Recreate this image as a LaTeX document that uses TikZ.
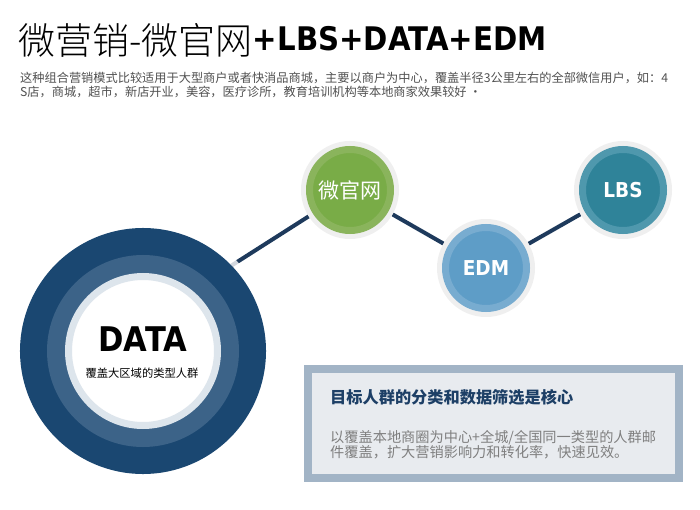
\documentclass[tikz,border=0pt]{standalone}
\usepackage{fontspec}
\usetikzlibrary{backgrounds}
\newfontfamily\cjk{Noto Sans CJK SC}
\newfontfamily\cjklight{Noto Sans CJK SC Light}
\newfontfamily\heavy[FakeStretch=0.9]{DejaVu Sans}
\definecolor{navy}{HTML}{1A4771}
\definecolor{midring}{HTML}{3C6388}
\definecolor{datagray}{HTML}{DDE5EC}
\definecolor{linkblue}{HTML}{1E3A5C}
\definecolor{halo}{HTML}{EFEFEF}
\definecolor{greenring}{HTML}{8AB45C}
\definecolor{greenin}{HTML}{79AC47}
\definecolor{edmring}{HTML}{78ACD0}
\definecolor{edmin}{HTML}{5E9DC7}
\definecolor{lbsring}{HTML}{4F98AD}
\definecolor{lbsin}{HTML}{2F8399}
\definecolor{frame}{HTML}{A2B4C6}
\definecolor{boxfill}{HTML}{E8EBEF}
\definecolor{boxtitle}{HTML}{1D3F66}
\definecolor{boxgray}{HTML}{7F7F7F}
\definecolor{introgray}{HTML}{505050}
\begin{document}
\begin{tikzpicture}[x=1pt,y=-1pt,
    bubble/.style={circle, minimum size=81, inner sep=0, outer sep=8.5, line width=7,
                   preaction={draw=halo, line width=17}, text=white},
    link/.style={draw=linkblue, line width=4}]
%    \draw[help lines] (0,0) grid[step=50] (700,510);
    \useasboundingbox (0,0) rectangle (700,510);

    \node[anchor=base west, inner sep=0] (titlecn) at (18,54.5) {\fontsize{37}{40}\selectfont\cjklight 微营销-微官网};
    \node[anchor=base west, inner sep=0] (titleen) at ([yshift=4]titlecn.base east) {\fontsize{32.5}{36}\selectfont\heavy\bfseries +LBS+DATA+EDM};
    \node[anchor=base west, inner sep=0, text=introgray] (intro1) at (20,82.5) {\fontsize{12.2}{14}\selectfont\cjk 这种组合营销模式比较适用于大型商户或者快消品商城，主要以商户为中心，覆盖半径3公里左右的全部微信用户，如：4};
    \node[anchor=base west, inner sep=0, text=introgray] (intro2) at (20,96.5) {\fontsize{12.2}{14}\selectfont\cjk S店，商城，超市，新店开业，美容，医疗诊所，教育培训机构等本地商家效果较好 ·};

    \node[circle, minimum size=149, inner sep=0, outer sep=48.5, line width=7, draw=datagray, fill=white,
          preaction={draw=white, draw opacity=.8, line width=111},
          preaction={draw=navy, line width=97},
          preaction={draw=midring, line width=43}] (data) at (143,351) {};
    \node[inner sep=0] (datatitle) at (143,339) {\fontsize{34}{36}\selectfont\heavy\bfseries DATA};
    \node[inner sep=0] (datasub)   at (142,373) {\fontsize{11.3}{13}\selectfont\cjk 覆盖大区域的类型人群};

    \node[bubble, draw=greenring, fill=greenin] (wgw) at (350,190) {\fontsize{21}{24}\selectfont\cjk 微官网};
    \node[bubble, draw=edmring, fill=edmin]     (edm) at (486,268) {\fontsize{20.5}{24}\selectfont\heavy\bfseries EDM};
    \node[bubble, draw=lbsring, fill=lbsin]     (lbs) at (623,190) {\fontsize{20.5}{24}\selectfont\heavy\bfseries LBS};

    \begin{pgfonlayer}{background}
    \draw[link] (wgw) -- (data.44);
    \draw[link] (wgw) -- (edm);
    \draw[link] (edm) -- (lbs);
    \end{pgfonlayer}

    \node[draw=frame, line width=8, fill=boxfill, minimum width=371, minimum height=109, inner sep=0] (box) at (493.5,423.5) {};
    \node[anchor=base west, inner sep=0, text=boxtitle] (boxhead)  at (330,403)   {\fontsize{16.2}{18}\selectfont\cjk\bfseries 目标人群的分类和数据筛选是核心};
    \node[anchor=base west, inner sep=0, text=boxgray]  (boxline1) at (330,442.5) {\fontsize{14.2}{16}\selectfont\cjk 以覆盖本地商圈为中心+全城/全国同一类型的人群邮};
    \node[anchor=base west, inner sep=0, text=boxgray]  (boxline2) at (330,457.5) {\fontsize{14.2}{16}\selectfont\cjk 件覆盖，扩大营销影响力和转化率，快速见效。};
\end{tikzpicture}
\end{document}
